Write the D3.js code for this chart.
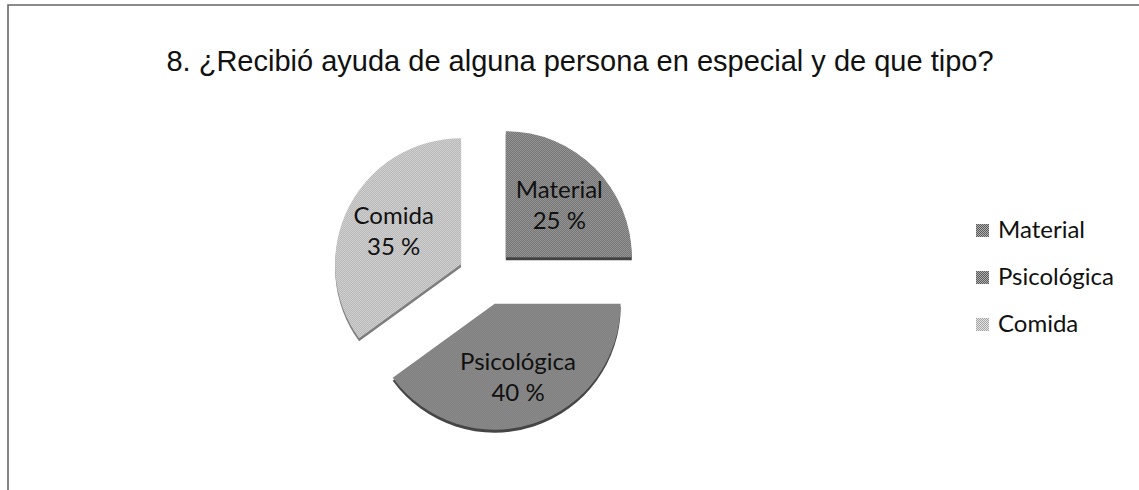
<!DOCTYPE html>
<html>
<head>
<meta charset="utf-8">
<script src="https://cdn.jsdelivr.net/npm/d3@7"></script>
<style>
  html, body { margin: 0; padding: 0; background: #fff; }
  #chart { width: 1139px; height: 490px; }
</style>
</head>
<body>
<div id="chart"></div>
<script>
const title = '8. ¿Recibió ayuda de alguna persona en especial y de que tipo?';
const categories = ['Material', 'Psicológica', 'Comida'];
const percents = [25, 40, 35];

const width = 1139;
const height = 490;

// halftone-ish greys, dark/light pixel pairs for each slice
const shades = {
  Material: ['#585858', '#b2b2b2'],
  'Psicológica': ['#5c5c5c', '#aeaeae'],
  Comida: ['#a6a6a6', '#e2e2e2'],
};

const svg = d3.select('#chart').append('svg')
  .attr('width', width)
  .attr('height', height);

const defs = svg.append('defs');
categories.forEach((cat, i) => {
  const p = defs.append('pattern')
    .attr('id', 'pat' + i)
    .attr('width', 2)
    .attr('height', 2)
    .attr('patternUnits', 'userSpaceOnUse');
  p.append('rect').attr('width', 2).attr('height', 2).attr('fill', shades[cat][1]);
  p.append('rect').attr('width', 1).attr('height', 1).attr('fill', shades[cat][0]);
  p.append('rect').attr('x', 1).attr('y', 1).attr('width', 1).attr('height', 1).attr('fill', shades[cat][0]);
});

// scanned frame: top and left edge only
svg.append('path')
  .attr('d', `M8,${height} L8,5 L${width},5`)
  .attr('fill', 'none')
  .attr('stroke', '#666')
  .attr('stroke-width', 1.6);

svg.append('text')
  .attr('x', 580)
  .attr('y', 71)
  .attr('text-anchor', 'middle')
  .attr('font-family', '"Liberation Sans", Arial, sans-serif')
  .attr('font-size', 29)
  .attr('fill', '#111')
  .text(title);

const cx = 486;
const cy = 277;
const radius = 126;
const explode = 28;
const rim = 3;

const pie = d3.pie().sort(null).value(d => d.value);
const arcs = pie(categories.map((c, i) => ({cat: c, value: percents[i]})));
const arc = d3.arc().innerRadius(0).outerRadius(radius);
const labelArc = d3.arc().innerRadius(radius * 0.6).outerRadius(radius * 0.6);

const g = svg.append('g').attr('transform', `translate(${cx},${cy})`);

const slices = g.selectAll('g.slice')
  .data(arcs)
  .join('g')
  .attr('class', 'slice')
  .attr('transform', d => {
    const mid = (d.startAngle + d.endAngle) / 2;
    return `translate(${Math.sin(mid) * explode},${-Math.cos(mid) * explode})`;
  });

// side of the 3d disc
slices.append('path')
  .attr('d', arc)
  .attr('transform', `translate(0,${rim})`)
  .attr('fill', d => d3.color(shades[d.data.cat][0]).darker(0.8));

slices.append('path')
  .attr('d', arc)
  .attr('fill', (d, i) => `url(#pat${i})`);

const labels = slices.append('text')
  .attr('transform', d => `translate(${labelArc.centroid(d)})`)
  .attr('text-anchor', 'middle')
  .attr('font-family', 'Lato, "Noto Sans", sans-serif')
  .attr('font-size', 24)
  .attr('fill', '#111');
labels.append('tspan').attr('x', 0).attr('dy', '-0.25em').text(d => d.data.cat);
labels.append('tspan').attr('x', 0).attr('dy', '1.3em').text(d => d.data.value + ' %');

// legend
const legend = svg.append('g').attr('transform', 'translate(976,224)');
const rows = legend.selectAll('g')
  .data(categories)
  .join('g')
  .attr('transform', (d, i) => `translate(0,${i * 47})`);
rows.append('rect')
  .attr('width', 13)
  .attr('height', 13)
  .attr('fill', (d, i) => `url(#pat${i})`);
rows.append('text')
  .attr('x', 22)
  .attr('y', 14)
  .attr('font-family', 'Lato, "Noto Sans", sans-serif')
  .attr('font-size', 24)
  .attr('fill', '#111')
  .text(d => d);
</script>
</body>
</html>
